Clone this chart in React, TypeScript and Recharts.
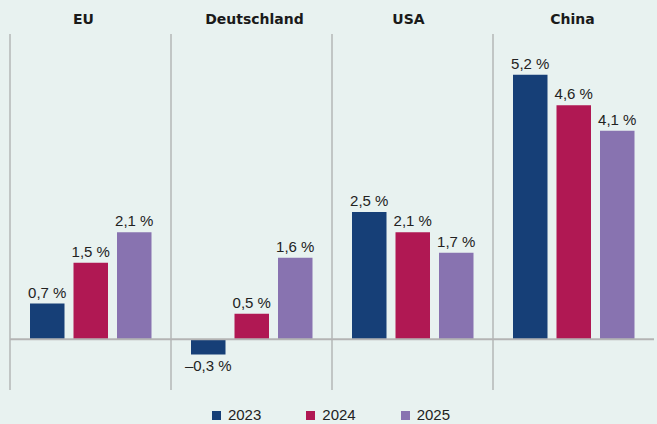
import React from 'react';
import { BarChart, Bar, XAxis, YAxis, CartesianGrid, ReferenceLine, LabelList, Legend } from 'recharts';

const categories = ['EU', 'Deutschland', 'USA', 'China'];
const values2023 = [0.7, -0.3, 2.5, 5.2];
const values2024 = [1.5, 0.5, 2.1, 4.6];
const values2025 = [2.1, 1.6, 1.7, 4.1];
const seriesNames = ['2023', '2024', '2025'];

const COLORS = ['#163f77', '#b01853', '#8873b0'];
const BG = '#e8f2f0';
const FONT = '"Liberation Sans", Arial, sans-serif';

const data = categories.map((c, i) => ({
  name: c,
  y2023: values2023[i],
  y2024: values2024[i],
  y2025: values2025[i],
}));

const fmt = (v: any) => {
  const n = Number(v);
  const s = Math.abs(n).toFixed(1).replace('.', ',');
  return (n < 0 ? '\u2013' : '') + s + '\u00a0%';
};

const titleShift: Record<string, number> = { EU: -7, Deutschland: 3, USA: -4, China: -1 };

const TitleTick = (props: any) => {
  const { x, payload } = props;
  const dx = titleShift[payload.value] ?? 0;
  return (
    <text
      x={x + dx}
      y={24}
      textAnchor="middle"
      fontFamily='"DejaVu Sans", sans-serif'
      fontWeight="bold"
      fontSize={14}
      fill="#1a1a1a"
    >
      {payload.value}
    </text>
  );
};

const LegendContent = () => (
  <div
    style={{
      display: 'flex',
      justifyContent: 'center',
      alignItems: 'center',
      fontFamily: FONT,
      fontSize: 15,
      color: '#222',
      paddingLeft: 5,
      lineHeight: '18px',
    }}
  >
    {seriesNames.map((n, i) => (
      <div key={n} style={{ display: 'flex', alignItems: 'center', marginLeft: i === 0 ? 0 : 45 }}>
        <span style={{ display: 'inline-block', width: 9, height: 9, background: COLORS[i], marginRight: 7 }} />
        <span>{n}</span>
      </div>
    ))}
  </div>
);

export default function App() {
  return (
    <div style={{ position: 'absolute', left: 0, top: 0, width: 657, height: 424, background: BG }}>
      <BarChart
        width={657}
        height={424}
        data={data}
        margin={{ top: 4, right: 3, left: 10, bottom: 34 }}
        barSize={34.5}
        barGap={9}
      >
        <CartesianGrid
          horizontal={false}
          stroke="#9a9a9a"
          strokeWidth={1}
          verticalCoordinatesGenerator={({ offset }: any) => {
            const w = offset.width / categories.length;
            return categories.map((_, i) => offset.left + i * w);
          }}
        />
        <XAxis
          dataKey="name"
          orientation="top"
          height={30}
          axisLine={false}
          tickLine={false}
          tick={<TitleTick />}
          interval={0}
        />
        <YAxis hide domain={[-1, 6]} />
        {(['y2023', 'y2024', 'y2025'] as const).map((k, i) => (
          <Bar key={k} dataKey={k} name={seriesNames[i]} fill={COLORS[i]} isAnimationActive={false}>
            <LabelList
              dataKey={k}
              position="top"
              offset={6}
              formatter={fmt}
              fill="#222"
              fontSize={15}
              fontFamily={FONT}
            />
          </Bar>
        ))}
        <ReferenceLine y={0} stroke="#b4b4b4" strokeWidth={2} />
        <Legend
          verticalAlign="middle"
          align="center"
          layout="horizontal"
          content={<LegendContent />}
          wrapperStyle={{ top: 406, left: 0, width: 657, height: 18 }}
        />
      </BarChart>
    </div>
  );
}
